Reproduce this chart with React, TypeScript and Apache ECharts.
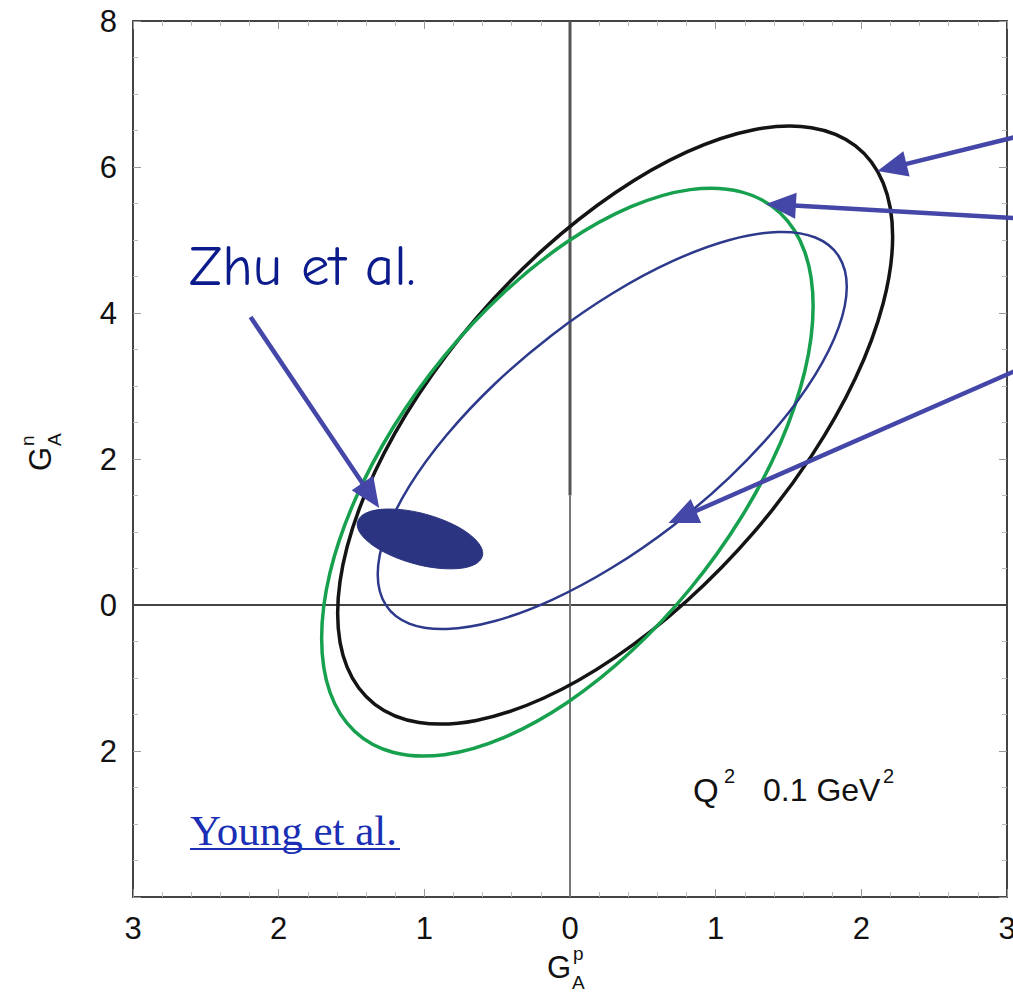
import React, { useEffect, useRef } from "react";
import * as echarts from "echarts";

// Tick values
const X_TICKS = [-3, -2, -1, 0, 1, 2, 3];
const Y_TICKS = [-4, -2, 0, 2, 4, 6, 8];

// Contour points (G_A^p, G_A^n)
const BLACK_ELLIPSE: [number, number][] = [
  [2.215, 5.045], [2.15, 5.781], [1.96, 6.29], [1.657, 6.539], [1.263, 6.511], [0.803, 6.207],
  [0.31, 5.647], [-0.183, 4.871], [-0.643, 3.931], [-1.037, 2.891], [-1.34, 1.822], [-1.53, 0.797],
  [-1.595, -0.115], [-1.53, -0.851], [-1.34, -1.36], [-1.037, -1.609], [-0.643, -1.581], [-0.183, -1.277],
  [0.31, -0.717], [0.803, 0.059], [1.263, 0.999], [1.657, 2.039], [1.96, 3.108], [2.15, 4.134],
];
const GREEN_ELLIPSE: [number, number][] = [
  [1.669, 4.096], [1.612, 4.835], [1.443, 5.369], [1.175, 5.66], [0.826, 5.69], [0.419, 5.456],
  [-0.018, 4.975], [-0.455, 4.278], [-0.862, 3.414], [-1.211, 2.442], [-1.479, 1.427], [-1.648, 0.439],
  [-1.705, -0.456], [-1.648, -1.195], [-1.479, -1.729], [-1.211, -2.02], [-0.862, -2.05], [-0.455, -1.816],
  [-0.018, -1.335], [0.419, -0.638], [0.826, 0.226], [1.175, 1.198], [1.443, 2.213], [1.612, 3.202],
];
const BLUE_ELLIPSE: [number, number][] = [
  [1.9, 4.359], [1.845, 4.778], [1.684, 5.034], [1.428, 5.109], [1.095, 5.0], [0.707, 4.713],
  [0.29, 4.267], [-0.127, 3.693], [-0.515, 3.031], [-0.848, 2.325], [-1.104, 1.624], [-1.265, 0.974],
  [-1.32, 0.421], [-1.265, 0.002], [-1.104, -0.254], [-0.848, -0.329], [-0.515, -0.22], [-0.127, 0.067],
  [0.29, 0.513], [0.707, 1.087], [1.095, 1.749], [1.428, 2.455], [1.684, 3.157], [1.845, 3.806],
];
const ZHU_ELLIPSE: [number, number][] = [
  [-0.599, 0.706], [-0.614, 0.806], [-0.657, 0.912], [-0.725, 1.018], [-0.815, 1.116], [-0.919, 1.2],
  [-1.03, 1.264], [-1.142, 1.303], [-1.246, 1.315], [-1.335, 1.3], [-1.403, 1.257], [-1.446, 1.19],
  [-1.461, 1.104], [-1.446, 1.004], [-1.403, 0.898], [-1.335, 0.792], [-1.246, 0.694], [-1.142, 0.61],
  [-1.03, 0.546], [-0.919, 0.507], [-0.815, 0.495], [-0.725, 0.51], [-0.657, 0.553], [-0.614, 0.62],
];

// Annotation arrows: [tailX, tailY, tipX, tipY]
const ARROWS: [number, number, number, number][] = [
  [3.055, 6.41, 2.11, 5.945],
  [3.055, 5.3, 1.345, 5.493],
  [3.055, 3.205, 0.676, 1.123],
  [-2.193, 3.945, -1.31, 1.329],
];

// Zero reference lines
const H_ZERO: [number, number][] = [[-3, 0], [3, 0]];
const V_ZERO_UPPER: [number, number][] = [[0, 8], [0, 1.5]];
const V_ZERO_LOWER: [number, number][] = [[0, 1.5], [0, -4]];

const SANS = "'Liberation Sans', Arial, Helvetica, sans-serif";
const SERIF = "'Liberation Serif', 'Times New Roman', serif";
const COMIC = "'Comic Sans MS', 'Comic Neue', 'DejaVu Sans', sans-serif";
const ARROW_COLOR = "#4447a8";

function loopRenderer(points: [number, number][], style: any) {
  return (params: any, api: any) => {
    if (params.dataIndex !== 0) return null;
    const pts = points.map((p) => api.coord(p));
    return { type: "polygon", shape: { points: pts, smooth: 0.33 }, style };
  };
}

function arrowRenderer(params: any, api: any) {
  const a = api.coord([api.value(0), api.value(1)]);
  const b = api.coord([api.value(2), api.value(3)]);
  const dx = b[0] - a[0];
  const dy = b[1] - a[1];
  const len = Math.sqrt(dx * dx + dy * dy);
  const ux = dx / len;
  const uy = dy / len;
  const L = 30;
  const W = 13;
  const bx = b[0] - ux * L;
  const by = b[1] - uy * L;
  const nx = -uy;
  const ny = ux;
  return {
    type: "group",
    children: [
      { type: "line", shape: { x1: a[0], y1: a[1], x2: bx + ux * 2, y2: by + uy * 2 }, style: { stroke: ARROW_COLOR, lineWidth: 4.5 } },
      {
        type: "polygon",
        shape: { points: [[b[0], b[1]], [bx + nx * W, by + ny * W], [bx - nx * W, by - ny * W]] },
        style: { fill: ARROW_COLOR },
      },
    ],
  };
}

export default function App() {
  const ref = useRef<HTMLDivElement>(null);
  useEffect(() => {
    if (!ref.current) return;
    const chart = echarts.init(ref.current, null, { renderer: "svg" });
    const axisCommon = {
      type: "value",
      axisLine: { show: true, onZero: false, lineStyle: { color: "#444", width: 2 } },
      axisTick: { show: true, inside: true, length: 8, lineStyle: { color: "#999", width: 1 } },
      minorTick: { show: true, length: 5, lineStyle: { color: "#bbb", width: 1 } },
      splitLine: { show: false },
      minorSplitLine: { show: false },
    };
    chart.setOption({
      animation: false,
      backgroundColor: "#fff",
      grid: { left: 133, right: 6, top: 21, bottom: 101, containLabel: false, outerBoundsMode: "none" },
      xAxis: [
        {
          ...axisCommon,
          min: X_TICKS[0],
          max: X_TICKS[X_TICKS.length - 1],
          interval: 1,
          minorTick: { ...axisCommon.minorTick, splitNumber: 5 },
          axisLabel: {
            fontSize: 31,
            fontFamily: SANS,
            color: "#111",
            margin: 16,
            formatter: (v: number) => String(Math.abs(v)),
          },
        },
        {
          ...axisCommon,
          position: "top",
          min: X_TICKS[0],
          max: X_TICKS[X_TICKS.length - 1],
          interval: 1,
          minorTick: { ...axisCommon.minorTick, splitNumber: 5 },
          axisLabel: { show: false },
        },
      ],
      yAxis: [
        {
          ...axisCommon,
          min: Y_TICKS[0],
          max: Y_TICKS[Y_TICKS.length - 1],
          interval: 2,
          minorTick: { ...axisCommon.minorTick, splitNumber: 4 },
          axisLabel: {
            fontSize: 31,
            fontFamily: SANS,
            color: "#111",
            margin: 16,
            formatter: (v: number) => (v === Y_TICKS[0] ? "" : String(Math.abs(v))),
          },
        },
        {
          ...axisCommon,
          position: "right",
          min: Y_TICKS[0],
          max: Y_TICKS[Y_TICKS.length - 1],
          interval: 2,
          minorTick: { ...axisCommon.minorTick, splitNumber: 4 },
          axisLabel: { show: false },
        },
      ],
      series: [
        { type: "line", data: H_ZERO, symbol: "none", lineStyle: { color: "#444", width: 2 }, z: 1, silent: true },
        { type: "line", data: V_ZERO_UPPER, symbol: "none", lineStyle: { color: "#555", width: 3 }, z: 1, silent: true },
        { type: "line", data: V_ZERO_LOWER, symbol: "none", lineStyle: { color: "#777", width: 2 }, z: 1, silent: true },
        {
          type: "custom", name: "black", data: BLACK_ELLIPSE, encode: { x: 0, y: 1 }, clip: false, z: 3,
          renderItem: loopRenderer(BLACK_ELLIPSE, { fill: "none", stroke: "#141414", lineWidth: 3.5 }),
        },
        {
          type: "custom", name: "green", data: GREEN_ELLIPSE, encode: { x: 0, y: 1 }, clip: false, z: 3,
          renderItem: loopRenderer(GREEN_ELLIPSE, { fill: "none", stroke: "#17a04e", lineWidth: 3.5 }),
        },
        {
          type: "custom", name: "blue", data: BLUE_ELLIPSE, encode: { x: 0, y: 1 }, clip: false, z: 3,
          renderItem: loopRenderer(BLUE_ELLIPSE, { fill: "none", stroke: "#2d3a8c", lineWidth: 2.5 }),
        },
        {
          type: "custom", name: "zhu", data: ZHU_ELLIPSE, encode: { x: 0, y: 1 }, clip: false, z: 4,
          renderItem: loopRenderer(ZHU_ELLIPSE, { fill: "#2b3480", stroke: "#2b3480", lineWidth: 1 }),
        },
        {
          type: "custom", name: "arrows", data: ARROWS, encode: { x: [0, 2], y: [1, 3] }, clip: false, z: 5,
          renderItem: arrowRenderer,
        },
      ],
      graphic: [
        { type: "text", x: 189, y: 266, style: { text: "Zhu et al.", font: `57px ${COMIC}`, fill: "#0c1b8c", textVerticalAlign: "middle" }, z: 10 },
        { type: "text", x: 190, y: 830, style: { text: "Young et al.", font: `43px ${SERIF}`, fill: "#1a2fb5", textVerticalAlign: "middle" }, z: 10 },
        { type: "line", shape: { x1: 190, y1: 849, x2: 400, y2: 849 }, style: { stroke: "#1a2fb5", lineWidth: 2 }, z: 10 },
        { type: "text", x: 693, y: 790, style: { text: "Q", font: `33px ${SANS}`, fill: "#111", textVerticalAlign: "middle" }, z: 10 },
        { type: "text", x: 724, y: 776, style: { text: "2", font: `20px ${SANS}`, fill: "#111", textVerticalAlign: "middle" }, z: 10 },
        { type: "text", x: 763, y: 790, style: { text: "0.1 GeV", font: `32px ${SANS}`, fill: "#111", textVerticalAlign: "middle" }, z: 10 },
        { type: "text", x: 883, y: 776, style: { text: "2", font: `20px ${SANS}`, fill: "#111", textVerticalAlign: "middle" }, z: 10 },
        // x-axis title G_A^p
        { type: "text", x: 559, y: 967, style: { text: "G", font: `31px ${SANS}`, fill: "#111", textAlign: "center", textVerticalAlign: "middle" }, z: 10 },
        { type: "text", x: 573, y: 953, style: { text: "p", font: `19px ${SANS}`, fill: "#111", textVerticalAlign: "middle" }, z: 10 },
        { type: "text", x: 572, y: 982, style: { text: "A", font: `19px ${SANS}`, fill: "#111", textVerticalAlign: "middle" }, z: 10 },
        // y-axis title G_A^n (rotated)
        {
          type: "group", x: 40, y: 459, rotation: Math.PI / 2, z: 10,
          children: [
            { type: "text", x: 0, y: 0, style: { text: "G", font: `31px ${SANS}`, fill: "#111", textAlign: "center", textVerticalAlign: "middle" } },
            { type: "text", x: 13, y: -13, style: { text: "n", font: `19px ${SANS}`, fill: "#111", textVerticalAlign: "middle" } },
            { type: "text", x: 13, y: 14, style: { text: "A", font: `19px ${SANS}`, fill: "#111", textVerticalAlign: "middle" } },
          ],
        },
      ],
    });
    return () => chart.dispose();
  }, []);
  return <div ref={ref} style={{ position: "absolute", left: 0, top: 0, width: 1013, height: 998 }} />;
}
